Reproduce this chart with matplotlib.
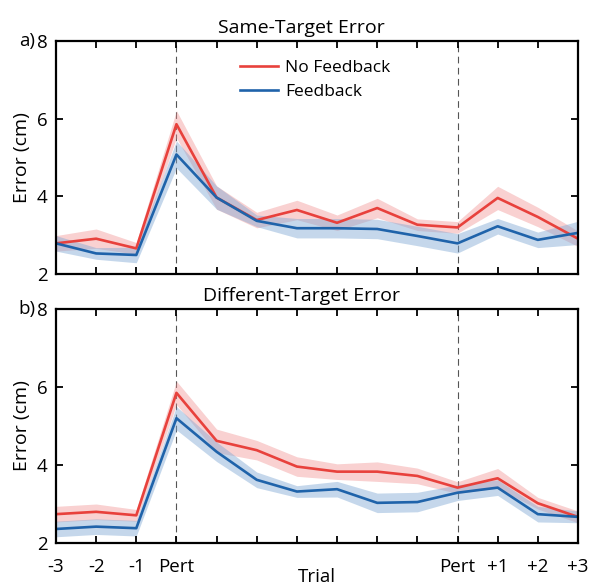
import numpy as np
import matplotlib
matplotlib.use("Agg")
import matplotlib.pyplot as plt

plt.rcParams['font.family'] = ['Open Sans', 'DejaVu Sans']

# trial positions and labels
trial_labels = ['-3', '-2', '-1', 'Pert', '', '', '', '', '', '', 'Pert', '+1', '+2', '+3']
pert_trials = [3, 10]

# a) same-target error
same_nofb = [2.79, 2.91, 2.66, 5.86, 3.97, 3.39, 3.65, 3.32, 3.70, 3.27, 3.20, 3.96, 3.47, 2.91]
same_nofb_se = [0.2, 0.25, 0.15, 0.35, 0.3, 0.2, 0.25, 0.2, 0.25, 0.15, 0.15, 0.3, 0.25, 0.2]
same_fb = [2.79, 2.53, 2.49, 5.08, 3.97, 3.37, 3.18, 3.18, 3.16, 2.98, 2.79, 3.23, 2.88, 3.06]
same_fb_se = [0.2, 0.15, 0.2, 0.35, 0.3, 0.15, 0.25, 0.25, 0.25, 0.25, 0.25, 0.2, 0.2, 0.3]

# b) different-target error
diff_nofb = [2.74, 2.80, 2.71, 5.85, 4.62, 4.38, 3.96, 3.83, 3.83, 3.72, 3.42, 3.66, 3.02, 2.67]
diff_nofb_se = [0.2, 0.2, 0.15, 0.3, 0.3, 0.25, 0.25, 0.2, 0.25, 0.2, 0.15, 0.25, 0.15, 0.15]
diff_fb = [2.36, 2.42, 2.38, 5.20, 4.34, 3.62, 3.32, 3.38, 3.03, 3.05, 3.29, 3.42, 2.74, 2.67]
diff_fb_se = [0.2, 0.2, 0.2, 0.3, 0.25, 0.2, 0.15, 0.2, 0.25, 0.25, 0.2, 0.2, 0.2, 0.15]

red = '#e8413c'
blue = '#1f63aa'
red_fill = '#f08c8c'
blue_fill = '#7fa8d4'


def draw_panel(ax, nofb, nofb_se, fb, fb_se, title, letter, show_xlabels):
    x = np.arange(len(trial_labels))
    nofb = np.array(nofb); fb = np.array(fb)
    ax.fill_between(x, nofb - nofb_se, nofb + nofb_se, color=red_fill, alpha=0.4, lw=0)
    ax.fill_between(x, fb - fb_se, fb + fb_se, color=blue_fill, alpha=0.45, lw=0)
    ax.plot(x, nofb, color=red, lw=1.9, label='No Feedback')
    ax.plot(x, fb, color=blue, lw=1.9, label='Feedback')
    for p in pert_trials:
        ax.axvline(p, color='#555555', lw=0.8, ls=(0, (6, 4)), zorder=0)
    ax.set_xlim(0, len(trial_labels) - 1)
    ax.set_ylim(2, 8)
    ax.set_yticks([2, 4, 6, 8])
    ax.set_xticks(x)
    if show_xlabels:
        ax.set_xticklabels(trial_labels)
    else:
        ax.set_xticklabels([])
    ax.tick_params(direction='in', top=True, right=True, length=5, width=1.3,
                   labelsize=13.5)
    ax.tick_params(axis='y', pad=6)
    ax.tick_params(axis='x', pad=11)
    for s in ax.spines.values():
        s.set_linewidth(1.6)
    ax.set_ylabel('Error (cm)', fontsize=14, labelpad=4)
    ax.set_title(title, fontsize=14, x=0.47, pad=6)
    ax.text(-0.04, 1.0, letter, transform=ax.transAxes, fontsize=13.5,
            ha='right', va='center')


fig = plt.figure(figsize=(5.9, 5.88), dpi=100)
ax1 = fig.add_axes([0.0949, 0.534, 0.8847, 0.396])
ax2 = fig.add_axes([0.0949, 0.0765, 0.8847, 0.398])

draw_panel(ax1, same_nofb, same_nofb_se, same_fb, same_fb_se, 'Same-Target Error', 'a)', False)
draw_panel(ax2, diff_nofb, diff_nofb_se, diff_fb, diff_fb_se, 'Different-Target Error', 'b)', True)

ax1.legend(loc='upper left', bbox_to_anchor=(0.323, 0.987), frameon=False, fontsize=12.5,
           handlelength=2.2, handletextpad=0.4, labelspacing=0.45)
ax2.set_xlabel('Trial', fontsize=13.5, labelpad=-6)

fig.savefig('out.png', dpi=100)
